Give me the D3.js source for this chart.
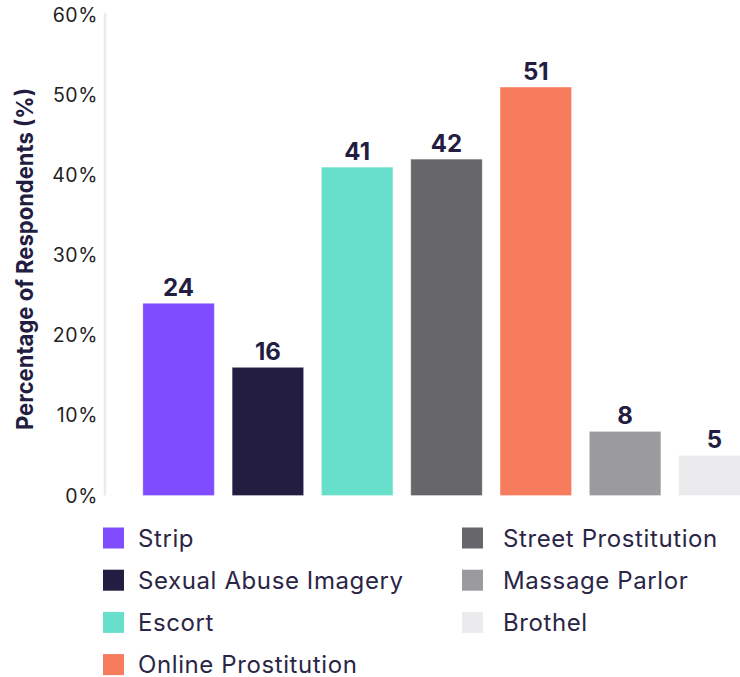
<!DOCTYPE html>
<html>
<head>
<meta charset="utf-8">
<script src="https://cdn.jsdelivr.net/npm/d3@7"></script>
<style>
    html, body { margin: 0; padding: 0; background: #fff; }
    svg { display: block; font-family: Inter, "Noto Sans", sans-serif; }
</style>
</head>
<body>
<svg id="chart" width="740" height="677"></svg>
<script>
// 数据
const categories = ["Strip", "Sexual Abuse Imagery", "Escort", "Street Prostitution", "Online Prostitution", "Massage Parlor", "Brothel"];
const values = [24, 16, 41, 42, 51, 8, 5];
const colors = ["#7f4cff", "#231d42", "#67dfca", "#67666b", "#f77c5e", "#9b9a9e", "#ebebed"];
const yTicks = [0, 10, 20, 30, 40, 50, 60];
const legendLeft = ["Strip", "Sexual Abuse Imagery", "Escort", "Online Prostitution"];
const legendRight = ["Street Prostitution", "Massage Parlor", "Brothel"];

const svg = d3.select("#chart");

const y = d3.scaleLinear().domain([0, 60]).range([495.5, 15]);
const x = d3.scaleBand().domain(categories).range([125, 768]).paddingInner(0.2).paddingOuter(0.2);
const color = d3.scaleOrdinal().domain(categories).range(colors);

// y axis line
svg.append("line")
    .attr("x1", 105).attr("x2", 105)
    .attr("y1", y(60) - 2).attr("y2", y(0))
    .attr("stroke", "#ebebeb")
    .attr("stroke-width", 2.5);

// tick labels
svg.append("g").selectAll("text")
    .data(yTicks)
    .enter().append("text")
    .attr("x", 98)
    .attr("y", d => y(d))
    .attr("dy", "0.36em")
    .attr("text-anchor", "end")
    .attr("font-size", "19.5px")
    .attr("letter-spacing", "0.6px")
    .attr("fill", "#222")
    .text(d => d + "%");

// axis title
svg.append("text")
    .attr("transform", `translate(33, ${(88 + 430) / 2}) rotate(-90)`)
    .attr("text-anchor", "middle")
    .attr("font-size", "23.5px")
    .attr("font-weight", 700)
    .attr("fill", "#231d42")
    .attr("textLength", 342)
    .attr("lengthAdjust", "spacingAndGlyphs")
    .text("Percentage of Respondents (%)");

// bars
const data = categories.map((c, i) => ({ name: c, value: values[i] }));

svg.append("g").selectAll("rect")
    .data(data)
    .enter().append("rect")
    .attr("x", d => x(d.name))
    .attr("y", d => y(d.value))
    .attr("width", x.bandwidth())
    .attr("height", d => y(0) - y(d.value))
    .attr("fill", d => color(d.name))
    .attr("stroke", "rgba(255,255,255,0.3)")
    .attr("stroke-width", 1);

svg.append("g").selectAll("text")
    .data(data)
    .enter().append("text")
    .attr("x", d => x(d.name) + x.bandwidth() / 2)
    .attr("y", d => y(d.value) - 7.5)
    .attr("text-anchor", "middle")
    .attr("font-size", "24px")
    .attr("font-weight", 700)
    .attr("fill", "#231d42")
    .text(d => d.value);

// legend
function drawLegend(items, sx, tx) {
    const g = svg.append("g");
    const row = g.selectAll("g")
        .data(items)
        .enter().append("g")
        .attr("transform", (d, i) => `translate(0, ${538 + i * 42.2})`);
    row.append("rect")
        .attr("x", sx).attr("y", -10.5)
        .attr("width", 21).attr("height", 21)
        .attr("fill", d => color(d));
    row.append("text")
        .attr("x", tx)
        .attr("dy", "0.36em")
        .attr("font-size", "24px")
        .attr("letter-spacing", "0.6px")
        .attr("fill", "#2b2546")
        .text(d => d);
}
drawLegend(legendLeft, 103, 138);
drawLegend(legendRight, 462, 503);
</script>
</body>
</html>
